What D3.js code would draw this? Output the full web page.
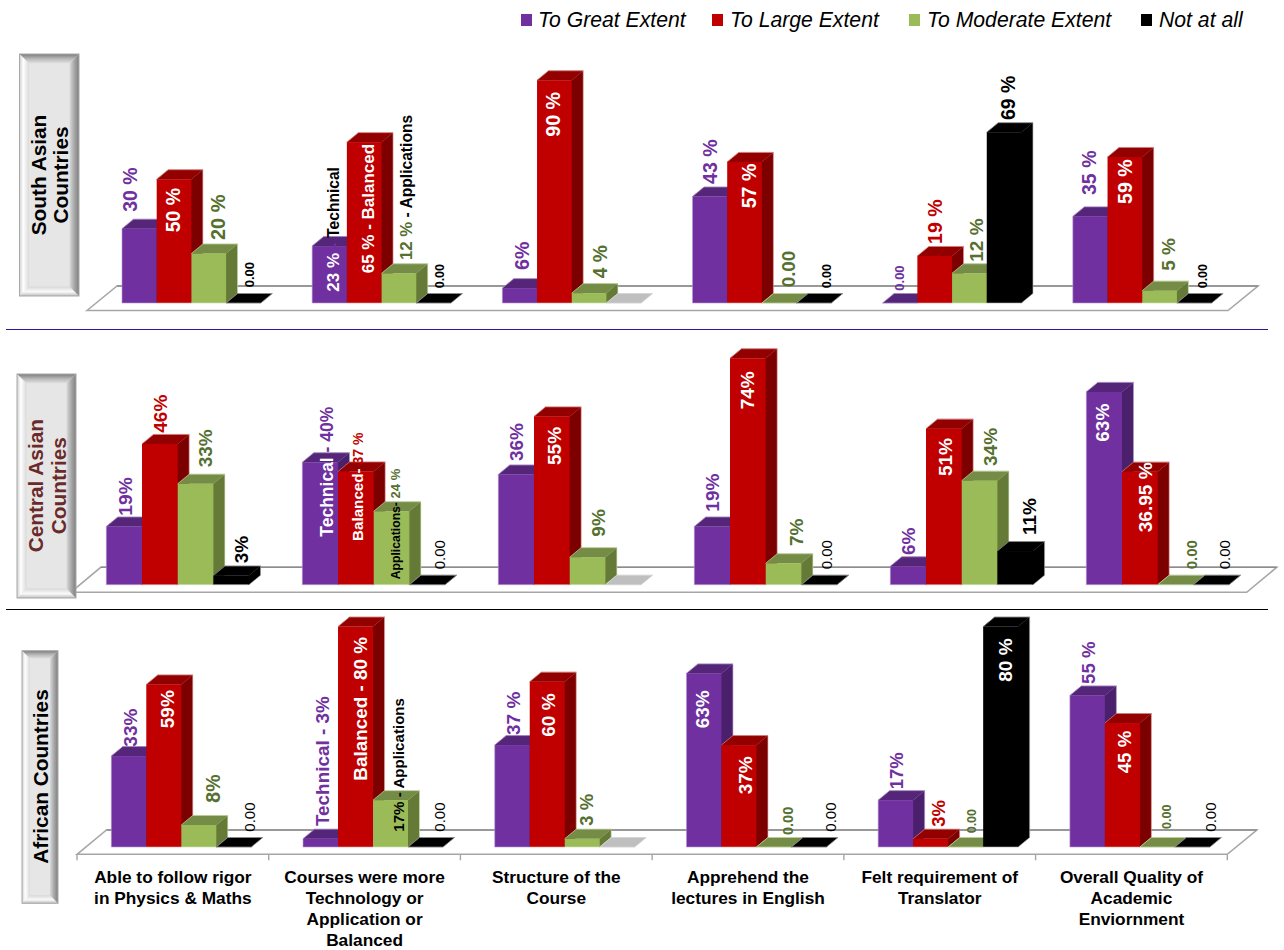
<!DOCTYPE html>
<html>
<head>
<meta charset="utf-8">
<title>Student responses by region</title>
<script src="https://cdn.jsdelivr.net/npm/d3@7/dist/d3.min.js"></script>
<style>
  html, body { margin: 0; background: #fff; }
  svg { display: block; font-family: "Liberation Sans", Arial, sans-serif; }
  text { white-space: pre; }
</style>
</head>
<body>
<svg id="chart" width="1284" height="950"></svg>
<script>
// ---- survey data -------------------------------------------------------
const seriesNames = ["To Great Extent", "To Large Extent", "To Moderate Extent", "Not at all"];

const categoryLines = [
  ["Able to follow rigor", "in Physics & Maths"],
  ["Courses were more", "Technology or", "Application or", "Balanced"],
  ["Structure of the", "Course"],
  ["Apprehend the", "lectures in English"],
  ["Felt requirement of", "Translator"],
  ["Overall Quality of", "Academic", "Enviornment"]
];

const southValues = [
  [30, 50, 20, 0], [23, 65, 12, 0], [6, 90, 4, 0],
  [43, 57, 0, 0], [0, 19, 12, 69], [35, 59, 5, 0]
];
const centralValues = [
  [19, 46, 33, 3], [40, 37, 24, 0], [36, 55, 9, 0],
  [19, 74, 7, 0], [6, 51, 34, 11], [63, 36.95, 0, 0]
];
const africanValues = [
  [33, 59, 8, 0], [3, 80, 17, 0], [37, 60, 3, 0],
  [63, 37, 0, 0], [17, 3, 0, 80], [55, 45, 0, 0]
];

// "|" separates runs of a label that are styled differently
const southLabels = [
  ["30 %", "50 %", "20 %", "0.00"],
  ["23 %| - |Technical", "65 % - Balanced", "12 %| - Applications", "0.00"],
  ["6%", "90 %", "4 %", ""],
  ["43 %", "57 %", "0.00", "0.00"],
  ["0.00", "19 %", "12 %", "69 %"],
  ["35 %", "59 %", "5 %", "0.00"]
];
const centralLabels = [
  ["19%", "46%", "33%", "3%"],
  ["Technical| - 40%", "Balanced-| 37 %", "Applications-| 24 %", "0.00"],
  ["36%", "55%", "9%", ""],
  ["19%", "74%", "7%", "0.00"],
  ["6%", "51%", "34%", "11%"],
  ["63%", "36.95 %", "0.00", "0.00"]
];
const africanLabels = [
  ["33%", "59%", "8%", "0.00"],
  ["Technical - 3%", "Balanced - 80 %", "17% - Applications", "0.00"],
  ["37 %", "60 %", "3 %", ""],
  ["63%", "37%", "0.00", "0.00"],
  ["17%", "3%", "0.00", "80 %"],
  ["55 %", "45 %", "0.00", "0.00"]
];

// ---- styling and layout ------------------------------------------------
const P = "#7030A0", R = "#C00000", G = "#55702F", K = "#000", W = "#fff";

const faceColors = [
  { front: "#7030A0", top: "#55257A", side: "#4A1F6B", edge: "#B79BD0" },
  { front: "#C00000", top: "#920000", side: "#7C0000", edge: "#E3A0A0" },
  { front: "#9BBB59", top: "#748C45", side: "#667A38", edge: "#CFE0AE" },
  { front: "#000000", top: "#000000", side: "#000000", edge: "#B0B0B0" }
];
const skippedColor = { front: "#BFBFBF", top: "#BFBFBF", side: "#BFBFBF", edge: "#D8D8D8" };
const skippedCategory = 2;   // "Not at all" was not offered for this question
const skippedSeries = 3;

// label placement relative to each bar's top-left: dx, dy, size, fill, weight
const southPlacement = [
  [[15.3, -17, 19.5, P], [23.3, 53, 19.5, W], [33.6, -13.5, 20, G], [27.9, -15.7, 13, K]],
  [[26.8, 45.6, [17, 17, 15.6], [W, P, K]], [27.1, 131.2, 17, W], [30.1, -13.3, [16.8, 15.6], [G, K]], [27.7, -14.7, 12.5, K]],
  [[26.6, -18.2, 19.6, P], [22.9, 56.5, 19.7, W], [35.5, -14.8, 19.3, G], null],
  [[24.7, -12.6, 19.6, P], [28.7, 46.4, 19.6, W], [33, -15.7, 18.8, G], [34, -14.7, 12.5, K]],
  [[21.2, -12.3, 13, P], [24.2, -12, 19.6, R], [30.5, -11.6, 19, G], [28.1, -12.2, 19.5, K]],
  [[22.7, -21.4, 19.5, P], [24.6, 47, 19.6, W], [32.6, -19.9, 19, G], [29.6, -14.7, 12.5, K]]
];
const centralPlacement = [
  [[25.4, -10.9, 19.2, P], [25.3, -11.2, 19, R], [34, -16.4, 19, G], [34.3, -12.2, 19, K]],
  [[30.4, 74.4, 17.5, [W, P]], [25.3, 69.5, [15.2, 14], [W, R]], [26.3, 68, [12.2, 13], [K, G]], [35.6, -15.4, 15, K, 400]],
  [[25, -13.5, 19, P], [26.7, 48.6, 19, W], [35.3, -20.5, 19, G], null],
  [[25, -14.9, 19, P], [24.3, 51, 19, W], [37, -17.3, 19, G], [30.3, -15.4, 15, K, 400]],
  [[24.7, -11.3, 19, P], [26.3, 47.4, 19, W], [35, -14.7, 19, G], [38.6, -16, 19, K]],
  [[22.7, 49.8, 19, W], [29.7, 60.7, 19.1, W], [39, -15.4, 15, G], [36.6, -15.4, 15, K, 400]]
];
const africanPlacement = [
  [[26, -9.4, 19, P], [27.7, 43.8, 19, W], [38.7, -22.3, 19.5, G], [38.7, -15.3, 15, K, 400]],
  [[25.8, -12.7, 18.9, P], [28.5, 154.1, 18.9, W], [31.1, 31.5, 15.1, K], [36.8, -15.3, 15, K, 400]],
  [[25.6, -10.1, 19, P], [24.9, 55, 19, W], [28.2, -13, 18.5, G], null],
  [[23, 54.9, 19, W], [30.3, 49.2, 19, W], [36.3, -12, 14.5, G], [44.7, -15.3, 15, K, 400]],
  [[25.1, -10.9, 18.5, P], [32.1, -12, 18.5, R], [27.8, -13.7, 12.5, G], [28.4, 55.1, 19, W]],
  [[24.9, -11.5, 18.7, P], [26.5, 50.3, 18.7, W], [31.5, -18, 12.5, G], [40.9, -15.3, 15, K, 400]]
];

const panels = [
  {
    title: ["South Asian", "Countries"], titleFill: "#000", titleX: [45.7, 68.3], titleY: 175,
    button: [19.5, 54, 59.5, 242], bevel: 9.5,
    floor: { left: 87, right: 1228, back: 286, front: 310.5, skew: 30 },
    base: 303, perUnit: 2.475, barStart: 35, barWidth: 34.7,
    values: southValues, labels: southLabels, placement: southPlacement
  },
  {
    title: ["Central Asian", "Countries"], titleFill: "#6A2A2A", titleX: [42.7, 65.7], titleY: 485.7,
    button: [17, 374, 59, 224], bevel: 9.5,
    floor: { left: 70.7, right: 1246.7, back: 567.3, front: 592.3, skew: 30 },
    base: 584.7, perUnit: 3.06, barStart: 35.6, barWidth: 35.7,
    values: centralValues, labels: centralLabels, placement: centralPlacement
  },
  {
    title: ["African Countries"], titleFill: "#000", titleX: [47.7], titleY: 776.5,
    button: [22, 650.7, 36, 252.6], bevel: 8,
    floor: { left: 77, right: 1227.3, back: 830, front: 854.3, skew: 29.5 },
    base: 847, perUnit: 2.755, barStart: 34.3, barWidth: 35,
    values: africanValues, labels: africanLabels, placement: africanPlacement
  }
];

const depth = { x: 11.5, y: 9.5 };
const legendSwatchX = [521, 712, 909, 1141];
const legendTextX = [538, 730, 927, 1159];
const separators = [
  { y: 329.5, stroke: "#2B17A6" },
  { y: 609.5, stroke: "#000" }
];

// ---- drawing -----------------------------------------------------------
const svg = d3.select("#chart");
const defs = svg.append("defs");

function ramp(id, x1, y1, x2, y2, stops) {
  const g = defs.append("linearGradient").attr("id", id)
    .attr("x1", x1).attr("y1", y1).attr("x2", x2).attr("y2", y2);
  stops.forEach(([o, c]) => g.append("stop").attr("offset", o).attr("stop-color", c));
}
ramp("bevelTop", 0, 0, 0, 1, [[0, "#7B7B7B"], [0.5, "#B8B8B8"], [1, "#E2E2E2"]]);
ramp("bevelRight", 1, 0, 0, 0, [[0, "#7F7F7F"], [0.5, "#A8A8A8"], [1, "#DADADA"]]);
ramp("bevelLeft", 0, 0, 1, 0, [[0, "#D0D0D0"], [0.4, "#FFFFFF"], [1, "#DADADA"]]);
ramp("bevelBottom", 0, 1, 0, 0, [[0, "#BDBDBD"], [0.45, "#FAFAFA"], [1, "#D8D8D8"]]);

const open = pts => "M" + pts.map(p => p.join(",")).join("L");
const poly = pts => open(pts) + "Z";

panels.forEach(panel => {
  const f = panel.floor;
  const categories = categoryLines.map(l => l.join(" "));
  const x = d3.scaleBand().domain(categories).range([f.left, f.right]);
  const inner = d3.scaleBand().domain(seriesNames).range([0, panel.barWidth * seriesNames.length]);
  const y = d3.scaleLinear().domain([0, 100]).range([panel.base, panel.base - 100 * panel.perUnit]);

  const g = svg.append("g");

  // floor plane the bars stand on
  g.append("path")
    .attr("d", poly([[f.left, f.front], [f.left + f.skew, f.back], [f.right + f.skew, f.back], [f.right, f.front]]))
    .attr("fill", "#fff").attr("stroke", "#A6A6A6").attr("stroke-width", 1.6);
  g.append("line")
    .attr("x1", f.left + f.skew).attr("x2", f.right + f.skew)
    .attr("y1", f.back).attr("y2", f.back)
    .attr("stroke", "#8C8C8C").attr("stroke-width", 1.6);

  const bars = [];
  categories.forEach((cat, c) => seriesNames.forEach((name, s) => {
    const value = panel.values[c][s];
    const left = x(cat) + panel.barStart + inner(name);
    const skipped = c === skippedCategory && s === skippedSeries;
    bars.push({
      c, s, value, left, right: left + inner.bandwidth(), top: y(value),
      colors: skipped ? skippedColor : faceColors[s]
    });
  }));

  // Bars are painted left to right so each one overlaps its neighbour's side wall
  const bar = g.selectAll("g.bar").data(bars).join("g").attr("class", "bar")
    .attr("stroke-linejoin", "round");
  // side wall tucks a pixel under the front face so no seam shows between them
  bar.filter(d => d.value > 0).append("path")
    .attr("fill", d => d.colors.side)
    .attr("d", d => poly([[d.right - 1, d.top], [d.right, d.top], [d.right + depth.x, d.top - depth.y],
      [d.right + depth.x, y(0) - depth.y], [d.right, y(0)], [d.right - 1, y(0)]]));
  bar.append("path")
    .attr("fill", d => d.colors.top).attr("stroke", d => d.colors.top).attr("stroke-width", 0.4)
    .attr("d", d => poly([[d.left, d.top], [d.left + depth.x, d.top - depth.y],
      [d.right + depth.x, d.top - depth.y], [d.right, d.top]]));
  bar.append("rect")
    .attr("fill", d => d.colors.front)
    .attr("x", d => d.left).attr("y", d => d.top)
    .attr("width", d => d.right - d.left).attr("height", d => y(0) - d.top);
  // thin pale rim around the visible outline of each bar
  bar.append("path")
    .attr("fill", "none").attr("stroke", d => d.colors.edge).attr("stroke-width", 0.8).attr("stroke-opacity", 0.75)
    .attr("d", d => open([
      ...(d.s === 0 ? [[d.left, y(0)]] : []),
      [d.left, d.top], [d.left + depth.x, d.top - depth.y],
      [d.right + depth.x, d.top - depth.y], [d.right + depth.x, y(0) - depth.y],
      [d.right, y(0)], [d.left, y(0)]
    ]));

  // rotated value labels, possibly made of several styled runs
  const labelled = bars.filter(d => panel.labels[d.c][d.s]);
  const label = g.selectAll("text.value").data(labelled).join("text").attr("class", "value")
    .attr("transform", d => {
      const p = panel.placement[d.c][d.s];
      return `translate(${d.left + p[0]},${d.top + p[1]}) rotate(-90)`;
    })
    .attr("font-weight", d => panel.placement[d.c][d.s][4] || 700);
  label.each(function (d) {
    const [, , size, fill] = panel.placement[d.c][d.s];
    panel.labels[d.c][d.s].split("|").forEach((run, i) => {
      d3.select(this).append("tspan").text(run)
        .attr("font-size", Array.isArray(size) ? size[i] : size)
        .attr("fill", Array.isArray(fill) ? fill[i] : fill);
    });
  });

  // bevelled region tag
  const [bx, by, bw, bh] = panel.button;
  const b = panel.bevel;
  const tag = svg.append("g");
  tag.append("rect").attr("x", bx).attr("y", by).attr("width", bw).attr("height", bh).attr("fill", "#E6E6E6");
  tag.append("path").attr("fill", "url(#bevelTop)")
    .attr("d", poly([[bx, by], [bx + bw, by], [bx + bw - b, by + b], [bx + b, by + b]]));
  tag.append("path").attr("fill", "url(#bevelBottom)")
    .attr("d", poly([[bx, by + bh], [bx + bw, by + bh], [bx + bw - b, by + bh - b], [bx + b, by + bh - b]]));
  tag.append("path").attr("fill", "url(#bevelLeft)")
    .attr("d", poly([[bx, by], [bx + b, by + b], [bx + b, by + bh - b], [bx, by + bh]]));
  tag.append("path").attr("fill", "url(#bevelRight)")
    .attr("d", poly([[bx + bw, by], [bx + bw - b, by + b], [bx + bw - b, by + bh - b], [bx + bw, by + bh]]));
  tag.append("rect").attr("x", bx).attr("y", by).attr("width", bw).attr("height", bh)
    .attr("fill", "none").attr("stroke", "#A8A8A8").attr("stroke-width", 1);
  panel.title.forEach((line, i) => {
    tag.append("text")
      .attr("transform", `translate(${panel.titleX[i]},${panel.titleY}) rotate(-90)`)
      .attr("text-anchor", "middle").attr("font-weight", 700).attr("font-size", 20.8)
      .attr("fill", panel.titleFill).text(line);
  });

  // category ticks and names sit under the last panel only
  if (panel === panels[panels.length - 1]) {
    const edges = categories.map(c => x(c)).concat(f.right);
    g.selectAll("line.tick").data(edges).join("line").attr("class", "tick")
      .attr("x1", d => d).attr("x2", d => d)
      .attr("y1", f.front).attr("y2", f.front + 6)
      .attr("stroke", "#A6A6A6").attr("stroke-width", 1.4);
    const names = g.selectAll("text.category").data(categoryLines).join("text").attr("class", "category")
      .attr("text-anchor", "middle").attr("font-weight", 700).attr("font-size", 17.3).attr("fill", "#000");
    names.selectAll("tspan").data(d => d).join("tspan")
      .attr("x", (d, i, nodes) => x(d3.select(nodes[i].parentNode).datum().join(" ")) + x.bandwidth() / 2)
      .attr("y", (d, i) => 882.5 + i * 21.2)
      .text(d => d);
  }
});

// horizontal rules between the regions
svg.selectAll("line.separator").data(separators).join("line").attr("class", "separator")
  .attr("x1", 6).attr("x2", 1268)
  .attr("y1", d => d.y).attr("y2", d => d.y)
  .attr("stroke", d => d.stroke).attr("stroke-width", 1);

// legend
const legend = svg.selectAll("g.legend").data(seriesNames).join("g").attr("class", "legend");
legend.append("rect")
  .attr("x", (d, i) => legendSwatchX[i]).attr("y", 14)
  .attr("width", 11).attr("height", 12)
  .attr("fill", (d, i) => faceColors[i].front);
legend.append("text")
  .attr("x", (d, i) => legendTextX[i]).attr("y", 27)
  .attr("font-size", 21.2).attr("font-style", "italic").attr("fill", "#000")
  .text(d => d);
</script>
</body>
</html>
